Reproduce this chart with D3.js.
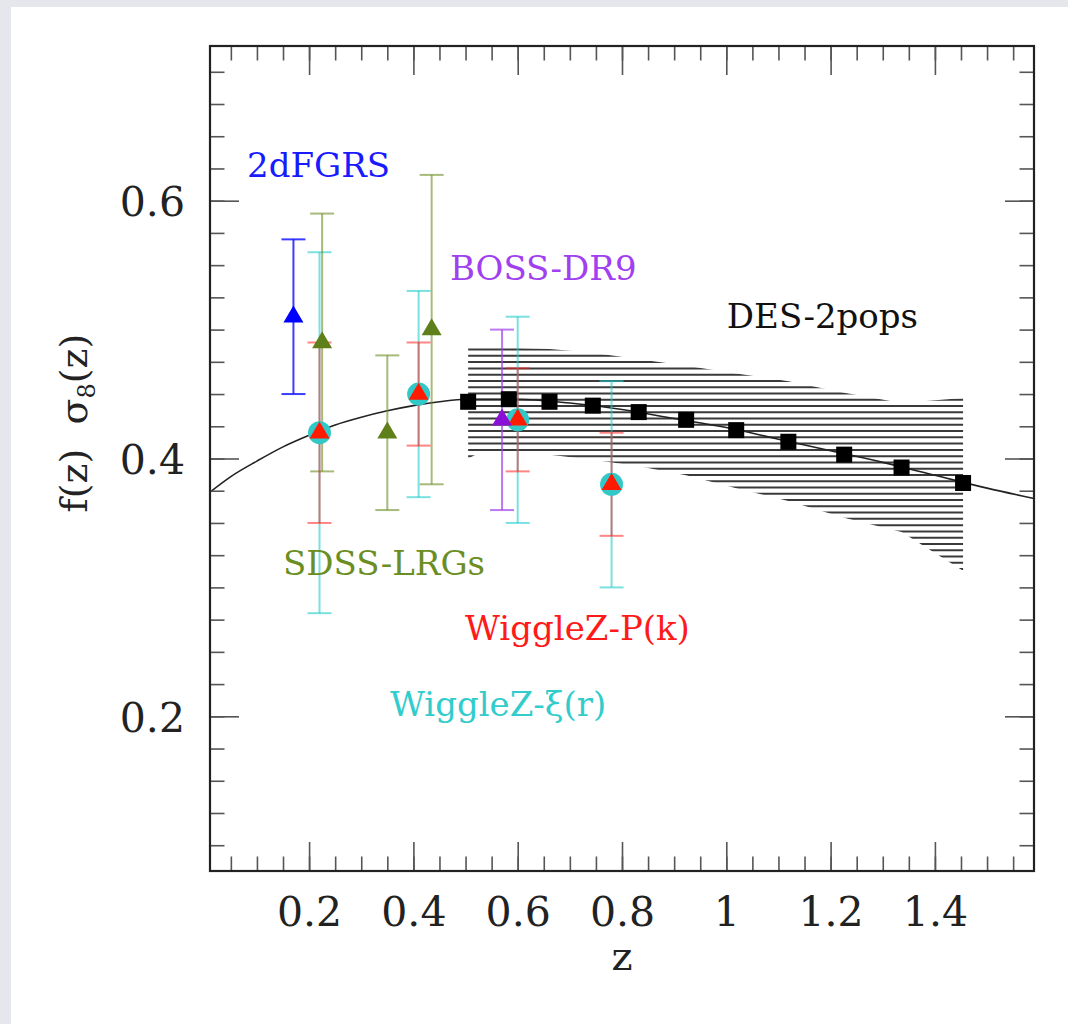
<!DOCTYPE html>
<html lang="en">
	<head>
		<meta charset="utf-8">
		<title>f(z) sigma8(z)</title>
		<script type="text/javascript" src="https://cdn.jsdelivr.net/npm/d3@7"></script>
		<style>
			body { margin: 0; background: #e6e7ec; }
			svg { display: block; }
		</style>
	</head>
	<body>
		<script type="text/javascript">

			//
			// Data
			//

			// theory curve
			var curveZ = [0.01, 0.05, 0.1, 0.15, 0.2, 0.25, 0.3, 0.35, 0.4, 0.45, 0.5, 0.55, 0.6, 0.7, 0.8, 0.9, 1.0, 1.1, 1.2, 1.3, 1.4, 1.5, 1.59];
			var curveF = [0.374, 0.386, 0.398, 0.409, 0.418, 0.426, 0.432, 0.437, 0.441, 0.444, 0.446, 0.446, 0.446, 0.443, 0.438, 0.431, 0.424, 0.415, 0.406, 0.397, 0.387, 0.377, 0.369];

			// DES-2pops forecast points and band
			var desZ = [0.505, 0.583, 0.661, 0.744, 0.832, 0.923, 1.019, 1.119, 1.226, 1.336, 1.454];
			var desF = [0.444, 0.446, 0.444, 0.441, 0.436, 0.430, 0.422, 0.413, 0.403, 0.393, 0.381];
			var bandZ  = [0.505, 0.525, 0.583, 0.661, 0.744, 0.832, 0.923, 1.019, 1.119, 1.226, 1.336, 1.454];
			var bandHi = [0.487, 0.487, 0.486, 0.485, 0.482, 0.477, 0.472, 0.466, 0.460, 0.451, 0.443, 0.447];
			var bandLo = [0.400, 0.404, 0.404, 0.403, 0.399, 0.394, 0.387, 0.377, 0.367, 0.354, 0.343, 0.313];

			// measurements
			var dfZ = [0.17],  dfF = [0.51],  dfLo = [0.45],  dfHi = [0.57];
			var lrgZ = [0.225, 0.35, 0.435], lrgF = [0.49, 0.42, 0.50], lrgLo = [0.39, 0.36, 0.38], lrgHi = [0.59, 0.48, 0.62];
			var wigZ = [0.22, 0.41, 0.60, 0.78], wigF = [0.42, 0.45, 0.43, 0.38];
			var xiLo = [0.28, 0.37, 0.35, 0.30], xiHi = [0.56, 0.53, 0.51, 0.46];
			var pkLo = [0.35, 0.41, 0.39, 0.34], pkHi = [0.49, 0.49, 0.47, 0.42];
			var bossZ = [0.57], bossF = [0.43], bossLo = [0.36], bossHi = [0.50];

			// ticks
			var xMajor = [0.2, 0.4, 0.6, 0.8, 1.0, 1.2, 1.4];
			var xLabels = ["0.2", "0.4", "0.6", "0.8", "1", "1.2", "1.4"];
			var yMajor = [0.2, 0.4, 0.6];
			var yLabels = ["0.2", "0.4", "0.6"];

			// labels (left edge / baseline, in data units)
			var labelText = ["2dFGRS", "BOSS-DR9", "DES-2pops", "SDSS-LRGs", "WiggleZ-P(k)", "WiggleZ-\u03BE(r)"];
			var labelZ    = [0.081, 0.470, 1.001, 0.150, 0.499, 0.355];
			var labelF    = [0.618, 0.5385, 0.501, 0.310, 0.259, 0.200];
			var labelCol  = ["#1a1aff", "#a040f0", "#111111", "#6b8e23", "#ff1a1a", "#33cccc"];


			//
			// Setup
			//

			var W = 1068, H = 1024;
			var serif = "'DejaVu Serif', serif";

			var svg = d3.select("body")
				.append("svg")
				.attr("width", W)
				.attr("height", H);

			svg.append("rect")
				.attr("x", 11).attr("y", 7)
				.attr("width", W - 11).attr("height", H - 7)
				.attr("fill", "#ffffff");

			var x = d3.scaleLinear().domain([0.01, 1.59]).range([210, 1034]);
			var y = d3.scaleLinear().domain([0.08, 0.72]).range([871, 46]);

			var zip = function(zs, fs, lo, hi) {
				return zs.map(function(z, i) {
					return { z: z, f: fs[i], lo: lo ? lo[i] : null, hi: hi ? hi[i] : null };
				});
			};


			//
			// Hatched DES band
			//

			var band = zip(bandZ, bandLo, bandLo, bandHi);
			var area = d3.area()
				.x(function(d) { return x(d.z); })
				.y0(function(d) { return y(d.lo); })
				.y1(function(d) { return y(d.hi); });

			svg.append("clipPath").attr("id", "bandclip")
				.append("path")
				.attr("d", area(band));

			var hatchStep = 6.27;
			var yTop = y(d3.max(bandHi)), yBot = y(d3.min(bandLo));
			var hatchY = [];
			for (var hy = y(0.4845); hy > yTop; hy -= hatchStep) {}
			for (hy += hatchStep; hy <= yBot + 1; hy += hatchStep) { hatchY.push(hy); }

			svg.append("g")
				.attr("clip-path", "url(#bandclip)")
				.selectAll("line")
				.data(hatchY)
				.enter()
				.append("line")
				.attr("x1", x(bandZ[0]) - 2)
				.attr("x2", x(bandZ[bandZ.length - 1]) + 2)
				.attr("y1", function(d) { return d; })
				.attr("y2", function(d) { return d; })
				.attr("stroke", "#3a3a3a")
				.attr("stroke-width", 2);


			//
			// Theory curve
			//

			var line = d3.line()
				.x(function(d) { return x(d.z); })
				.y(function(d) { return y(d.f); })
				.curve(d3.curveMonotoneX);

			svg.append("path")
				.datum(zip(curveZ, curveF))
				.attr("d", line)
				.attr("fill", "none")
				.attr("stroke", "#222")
				.attr("stroke-width", 1.6);


			//
			// Error bars
			//

			var capW = 12;
			var drawBars = function(data, col, op) {
				var g = svg.append("g")
					.attr("stroke", col)
					.attr("stroke-opacity", op)
					.attr("stroke-width", 2);
				var sel = g.selectAll("g").data(data).enter().append("g");
				sel.append("line")
					.attr("x1", function(d) { return x(d.z); })
					.attr("x2", function(d) { return x(d.z); })
					.attr("y1", function(d) { return y(d.lo); })
					.attr("y2", function(d) { return y(d.hi); });
				sel.append("line")
					.attr("x1", function(d) { return x(d.z) - capW; })
					.attr("x2", function(d) { return x(d.z) + capW; })
					.attr("y1", function(d) { return y(d.lo); })
					.attr("y2", function(d) { return y(d.lo); });
				sel.append("line")
					.attr("x1", function(d) { return x(d.z) - capW; })
					.attr("x2", function(d) { return x(d.z) + capW; })
					.attr("y1", function(d) { return y(d.hi); })
					.attr("y2", function(d) { return y(d.hi); });
			};

			var xiData = zip(wigZ, wigF, xiLo, xiHi);
			var pkData = zip(wigZ, wigF, pkLo, pkHi);
			var lrgData = zip(lrgZ, lrgF, lrgLo, lrgHi);
			var dfData = zip(dfZ, dfF, dfLo, dfHi);
			var bossData = zip(bossZ, bossF, bossLo, bossHi);

			drawBars(xiData, "#22cccc", 0.6);
			drawBars(lrgData, "#6b8e23", 0.6);
			drawBars(pkData, "#ff2020", 0.55);
			drawBars(dfData, "#1a1aff", 0.85);
			drawBars(bossData, "#a040f0", 0.7);


			//
			// Markers
			//

			var tri = "M0,-11.3L10,5.7L-10,5.7Z";

			var drawTri = function(data, col) {
				svg.append("g").selectAll("path")
					.data(data)
					.enter()
					.append("path")
					.attr("d", tri)
					.attr("transform", function(d) { return "translate(" + x(d.z) + "," + y(d.f) + ")"; })
					.attr("fill", col);
			};

			svg.append("g").selectAll("circle")
				.data(xiData)
				.enter()
				.append("circle")
				.attr("cx", function(d) { return x(d.z); })
				.attr("cy", function(d) { return y(d.f); })
				.attr("r", 11.5)
				.attr("fill", "#33c8c8");

			drawTri(pkData, "#ff1a00");
			drawTri(lrgData, "#5f7f1a");
			drawTri(dfData, "#0000ff");
			drawTri(bossData, "#8a10d8");

			svg.append("g").selectAll("rect")
				.data(zip(desZ, desF))
				.enter()
				.append("rect")
				.attr("x", function(d) { return x(d.z) - 8; })
				.attr("y", function(d) { return y(d.f) - 8; })
				.attr("width", 16)
				.attr("height", 16)
				.attr("fill", "#000");


			//
			// Axes (ticks point inward on all four sides)
			//

			var xMinor = d3.range(1, 32).map(function(i) { return i * 0.05; });
			var yMinor = d3.range(4, 29).map(function(i) { return i * 0.025; });

			var addAxis = function(gen, tx, ty) {
				var g = svg.append("g")
					.attr("transform", "translate(" + tx + "," + ty + ")")
					.call(gen);
				g.select(".domain").remove();
				g.selectAll(".tick line").attr("stroke", "#555").attr("stroke-width", 1.6);
				g.selectAll("text")
					.attr("font-family", serif)
					.attr("font-size", 41)
					.attr("fill", "#222");
				return g;
			};

			var none = function() { return ""; };

			addAxis(d3.axisBottom(x).tickValues(xMinor).tickSize(-14.5).tickFormat(none), 0, 871);
			addAxis(d3.axisTop(x).tickValues(xMinor).tickSize(-14.5).tickFormat(none), 0, 46);
			addAxis(d3.axisTop(x).tickValues(xMajor).tickSize(-29).tickFormat(none), 0, 46);
			addAxis(d3.axisLeft(y).tickValues(yMinor).tickSize(-14.5).tickFormat(none), 210, 0);
			addAxis(d3.axisRight(y).tickValues(yMinor).tickSize(-14.5).tickFormat(none), 1034, 0);
			addAxis(d3.axisRight(y).tickValues(yMajor).tickSize(-29).tickFormat(none), 1034, 0);

			var xb = addAxis(d3.axisBottom(x).tickValues(xMajor).tickSize(-29)
				.tickFormat(function(d, i) { return xLabels[i]; }), 0, 871);
			xb.selectAll("text").attr("y", 55).attr("dy", null);

			var yl = addAxis(d3.axisLeft(y).tickValues(yMajor).tickSize(-29).tickPadding(25)
				.tickFormat(function(d, i) { return yLabels[i]; }), 210, 0);
			yl.selectAll("text").attr("dy", "0.36em");

			// frame
			svg.append("rect")
				.attr("x", 210).attr("y", 46)
				.attr("width", 824).attr("height", 825)
				.attr("fill", "none")
				.attr("stroke", "#222")
				.attr("stroke-width", 2.2);


			//
			// Titles and labels
			//

			svg.append("text")
				.attr("x", 622).attr("y", 970)
				.attr("text-anchor", "middle")
				.attr("font-family", serif)
				.attr("font-size", 40)
				.attr("fill", "#222")
				.text("z");

			var yt = svg.append("text")
				.attr("transform", "translate(87,423) rotate(-90)")
				.attr("text-anchor", "middle")
				.attr("font-family", serif)
				.attr("font-size", 38)
				.attr("fill", "#222");
			yt.append("tspan").text("f(z)\u00A0\u00A0\u03C3");
			yt.append("tspan").attr("font-size", 24).attr("dy", 8).text("8");
			yt.append("tspan").attr("dy", -8).text("(z)");

			svg.append("g").selectAll("text")
				.data(labelText)
				.enter()
				.append("text")
				.attr("x", function(d, i) { return x(labelZ[i]); })
				.attr("y", function(d, i) { return y(labelF[i]); })
				.attr("font-family", serif)
				.attr("font-size", 34)
				.attr("fill", function(d, i) { return labelCol[i]; })
				.text(function(d) { return d; });

		</script>
	</body>
</html>
